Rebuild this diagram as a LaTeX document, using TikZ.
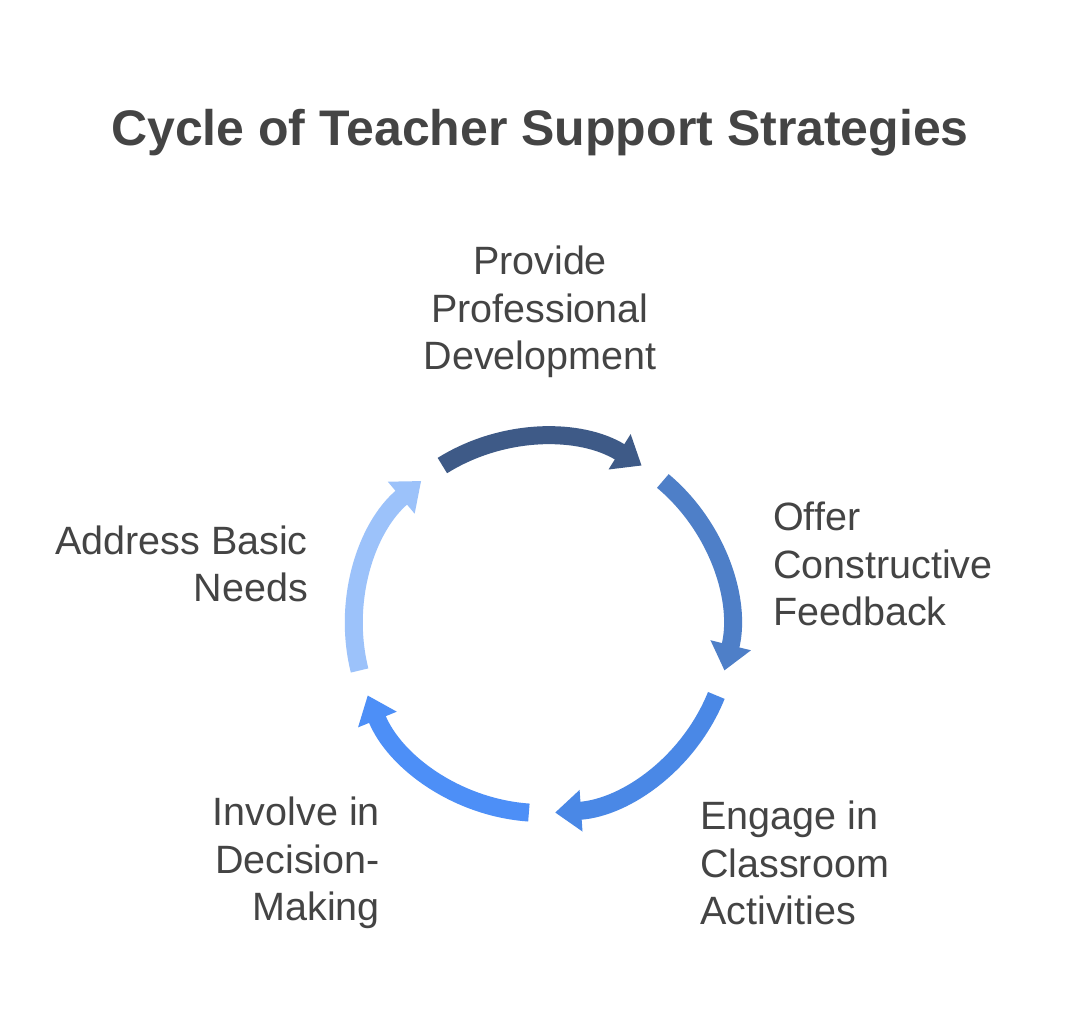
\documentclass[tikz,border=0pt]{standalone}
\usepackage{fontspec}
\setmainfont{Liberation Sans}
\usetikzlibrary{arrows.meta}
\definecolor{txt}{HTML}{444444}
\definecolor{ca}{HTML}{3E5A87}
\definecolor{cb}{HTML}{4E7FC8}
\definecolor{cc}{HTML}{4A88E6}
\definecolor{cd}{HTML}{4D8FF7}
\definecolor{ce}{HTML}{9CC2FA}
\begin{document}
\begin{tikzpicture}[x=1pt,y=1pt,
  lbl/.style={text=txt,font=\fontsize{39.5}{47.5}\selectfont,inner sep=0pt},
  seg/.style={line width=18pt,-{Triangle[length=26pt,width=40pt]}}]
\useasboundingbox (0,0) rectangle (1080,-1032);
\fill[white] (0,0) rectangle (1080,-1032);
\node[text=txt,font=\fontsize{50}{58}\selectfont\bfseries] (title) at (540,-133) {Cycle of Teacher Support Strategies};
\coordinate (c) at (542,-625);
\foreach \s/\col in {122/ca,50/cb,-22/cc,-94/cd,-166/ce}{
  \draw[seg,\col] (c) ++(\s:188) arc[start angle=\s,delta angle=-64,radius=188];
}
\node[lbl,align=center] (p) at (540,-312) {Provide\\Professional\\Development};
\node[lbl,align=left,anchor=west] (o) at (773,-564) {Offer\\Constructive\\Feedback};
\node[lbl,align=left,anchor=west] (e) at (700,-863) {Engage in\\Classroom\\Activities};
\node[lbl,align=right,anchor=east] (i) at (380,-863) {Involve in\\Decision-\\Making};
\node[lbl,align=right,anchor=east] (a) at (308,-564) {Address Basic\\Needs};
\end{tikzpicture}
\end{document}
